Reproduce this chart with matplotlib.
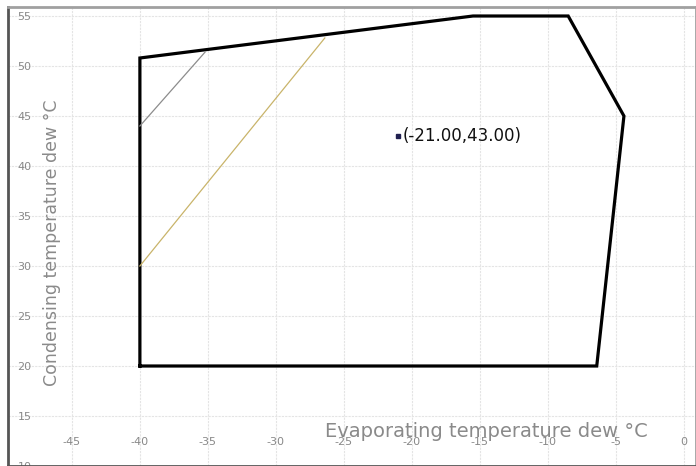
import matplotlib
matplotlib.use("Agg")
import matplotlib.pyplot as plt

plt.rcParams["axes.unicode_minus"] = False

# Envelope polygon (evaporating, condensing)
env_x = [-40, -40, -15.5, -8.5, -4.4, -6.4, -40]
env_y = [20, 50.8, 55, 55, 45, 20, 20]

# Inner lines
gray_x = [-40, -35.2]
gray_y = [44, 51.4]
olive_x = [-40, -26.4]
olive_y = [30, 52.8]

# Operating point
pt_x = -21.0
pt_y = 43.0

x_ticks = [-45, -40, -35, -30, -25, -20, -15, -10, -5, 0]
y_ticks = [10, 15, 20, 25, 30, 35, 40, 45, 50, 55]

fig = plt.figure(figsize=(6.96, 4.66), dpi=100)
ax = fig.add_axes([8/696, 0.0, 1 - 8/696, (466-7)/466])
ax.set_xlim(-49.7, 0.9)
ax.set_ylim(10, 55.9)

ax.set_xticks(x_ticks)
ax.set_yticks(y_ticks)
ax.grid(True, color="#e4e4e4", linewidth=0.8, linestyle=(0, (2, 1)))
ax.set_axisbelow(True)

ax.tick_params(axis="y", length=0, pad=-17, labelsize=8, labelcolor="#888888")
ax.tick_params(axis="x", length=0, pad=-21, labelsize=8, labelcolor="#888888")
for lbl in ax.get_yticklabels():
    lbl.set_horizontalalignment("right")

ax.plot(env_x, env_y, color="black", linewidth=2.3, solid_joinstyle="miter")
ax.plot(gray_x, gray_y, color="#8c8c8c", linewidth=0.9)
ax.plot(olive_x, olive_y, color="#c9b46a", linewidth=0.9)

ax.plot([pt_x], [pt_y], marker="s", markersize=3.5, color="#202050", linestyle="none")
ax.annotate("(-21.00,43.00)", (pt_x, pt_y), xytext=(3, 0), textcoords="offset points",
            va="center", ha="left", fontsize=12, color="#111111")

ax.text(0.696, 0.075, "Evaporating temperature dew °C", transform=ax.transAxes,
        ha="center", va="center", fontsize=14, color="#8a8a8a")
ax.text(0.064, 0.486, "Condensing temperature dew °C", transform=ax.transAxes,
        ha="center", va="center", rotation=90, fontsize=12.5, color="#8a8a8a")

for side in ["left", "top", "bottom", "right"]:
    ax.spines[side].set_linewidth(2)
ax.spines["left"].set_color("#555555")
ax.spines["top"].set_color("#a0a0a0")
ax.spines["bottom"].set_color("#555555")
ax.spines["right"].set_color("#a0a0a0")

fig.savefig("out.png", dpi=100)
